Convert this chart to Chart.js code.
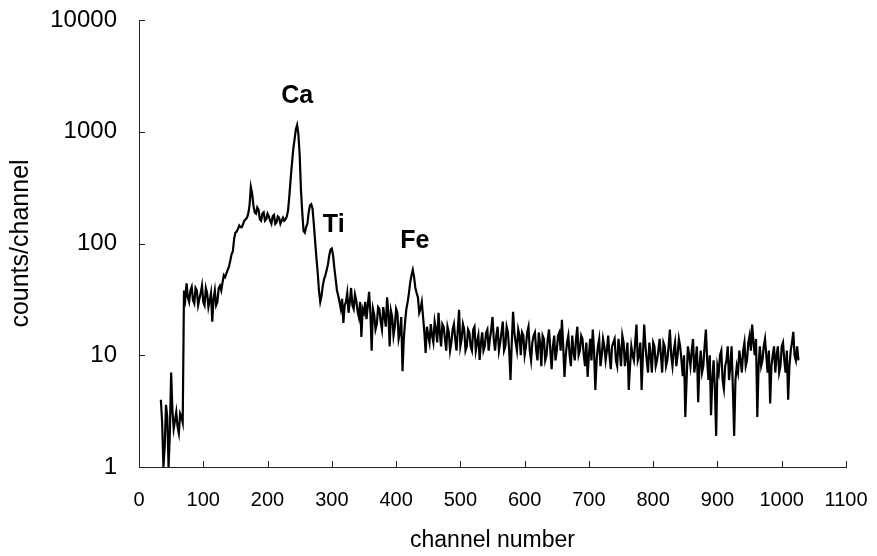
<!DOCTYPE html>
<html>
<head>
<meta charset="utf-8">
<script src="https://cdn.jsdelivr.net/npm/chart.js@4.4.0/dist/chart.umd.min.js"></script>
<style>
  html,body{margin:0;padding:0;background:#fff;}
  #wrap{width:877px;height:556px;}
</style>
</head>
<body>
<div id="wrap"><canvas id="spectrum" width="877" height="556"></canvas></div>
<script>
// spectrum.
// countsA: channels 34, 38, 42 ... 1026 ; countsB: the channels in between (36, 40 ... 1024)
const CH_START = 34, CH_STEP = 4;
const countsA = [
  4, 1, 3.6, 1, 7, 2.2, 3.1, 2.0, 2.8, 38,              // 34-70
  44, 30, 41, 29, 38, 32, 42, 28, 36, 31,               // 74-110
  20, 38, 30, 42, 45, 50, 58, 70, 85, 125,              // 114-150
  135, 140, 150, 165, 185, 320, 220, 185, 200, 160,     // 154-190
  190, 165, 175, 150, 180, 155, 170, 160, 160, 175,     // 194-230
  270, 520, 850, 1150, 620, 190, 125, 150, 220, 205,    // 234-270
  105, 55, 30, 42, 52, 65, 88, 78, 48, 34,              // 274-310
  26, 19.5, 30, 24, 40, 26, 31, 22, 14.6, 24,           // 314-350
  21, 37, 11, 23, 19, 26, 17, 22, 33, 12,               // 354-390
  22, 18, 24, 16, 7.2, 20, 30, 45, 58, 40,              // 394-430
  33, 26, 22, 10.5, 15, 19, 13, 17, 24, 12,             // 434-470
  18, 11, 16, 13, 19, 11, 25.5, 14, 17, 12,             // 474-510
  16, 11, 18, 13, 9.1, 16, 12, 17, 14, 22,              // 514-550
  11, 18, 13, 20, 12, 16, 6.0, 24.5, 13, 17,            // 554-590
  10, 15, 12, 18, 9, 15, 11, 16, 8, 14,                 // 594-630
  10, 17, 7.5, 15, 11, 16, 20.8, 6.4, 13, 10,           // 634-670
  15, 9, 18, 11, 14, 8, 6.4, 14, 17, 4.9,               // 674-710
  12, 8, 14, 9, 15, 7.5, 13, 9, 14, 8,                  // 714-750
  13, 10, 4.9, 12, 9, 18.8, 10, 4.9, 18.8, 9,           // 754-790
  13, 7, 12, 9, 14, 7, 12, 9, 17, 8,                    // 794-830
  13, 10, 12, 6.5, 2.8, 12, 8, 14, 9, 3.8,              // 834-870
  11, 8, 17, 6, 2.9, 9, 1.9, 7, 11, 5,                  // 874-910
  9, 6, 12, 1.9, 8, 11, 7, 13, 9, 15,                   // 914-950
  18.8, 10, 2.8, 12, 9, 14, 7, 3.7, 10, 7,              // 954-990
  12, 8, 13, 7, 4, 11, 16.2, 9, 9                       // 994-1026
];
const countsB = [
  2.5, 1.5, 2.8, 2.0, 3.2, 2.6, 2.3, 3.0, 2.5, 32,      // 36-72
  33, 38, 31, 40, 28, 36, 30, 40, 27, 36,               // 76-112
  32, 28, 40, 38, 52, 54, 62, 80, 110, 128,             // 116-152
  145, 140, 160, 170, 220, 280, 190, 210, 165, 185,     // 156-192
  160, 185, 160, 175, 150, 175, 150, 170, 165, 200,     // 196-232
  380, 700, 1050, 950, 300, 130, 140, 190, 225, 150,    // 236-272
  75, 38, 34, 48, 58, 78, 90, 60, 38, 30,               // 276-312
  32, 28, 36, 30, 28, 35, 25, 30, 26, 30,               // 316-352
  28, 24, 26, 17, 27, 20, 27, 18, 24, 25,               // 356-392
  15, 26, 14, 22, 14, 26, 36, 52, 50, 36,               // 396-432
  24, 30, 16, 18, 13, 15, 20, 13, 16, 19,               // 436-472
  14, 18, 11, 17, 14, 17, 12, 19, 11, 17,               // 476-512
  12, 17, 11, 15, 13, 11, 16, 11, 17, 14,               // 516-552
  15, 11, 16, 11, 18, 11, 13, 16, 11, 15,               // 556-592
  16, 10, 16, 11, 13, 16, 9, 13, 15, 9,                 // 596-632
  14, 11, 12, 9, 15, 11, 12, 10, 15, 8,                 // 636-672
  11, 14, 10, 15, 10, 13, 10, 9, 11, 9,                 // 676-712
  14, 10, 12, 11, 10, 12, 14, 8, 11, 15,                // 716-752
  8, 13, 8, 10, 13, 9, 13, 10, 12, 7,                   // 756-792
  10, 13, 8, 11, 10, 13, 8, 12, 10, 11,                 // 796-832
  8, 14, 9, 10, 6, 10, 11, 7, 12, 8,                    // 836-872
  7, 12, 9, 10, 6, 5, 8, 10, 6, 8,                      // 876-912
  12, 8, 5, 6, 7, 9, 11, 8, 13, 11,                     // 916-952
  13, 14, 8, 8, 12, 10, 11, 8, 12, 10,                  // 956-992
  7, 12, 9, 11, 8, 13, 10, 12                           // 996-1024
];

const spectrum = [];
countsA.forEach((v, i) => {
  spectrum.push({x: CH_START + CH_STEP * i, y: v});
  if (i < countsB.length) spectrum.push({x: CH_START + CH_STEP * i + 2, y: countsB[i]});
});

const xTicks = [0, 100, 200, 300, 400, 500, 600, 700, 800, 900, 1000, 1100];
const yTicks = [1, 10, 100, 1000, 10000];

// element names over the peaks (channel, counts)
const peakNames = ["Ca", "Ti", "Fe"];
const peakChannels = [246, 303, 429];
const peakCounts = [2070, 147, 106];

const FONT = "'Liberation Sans', Arial, sans-serif";

function noScalePad(s){ s.paddingTop = 0; s.paddingBottom = 0; s.paddingLeft = 0; s.paddingRight = 0; }

const innerTicks = {
  id: "innerTicks",
  afterDraw(chart){
    const {ctx, chartArea: a} = chart;
    const x = chart.scales.x, y = chart.scales.y;
    ctx.save();
    ctx.strokeStyle = "#222"; ctx.lineWidth = 1;
    ctx.beginPath();
    for (const v of xTicks){ const px = Math.round(x.getPixelForValue(v)) + 0.5; ctx.moveTo(px, a.bottom); ctx.lineTo(px, a.bottom - 6); }
    for (const v of yTicks){ const py = Math.round(y.getPixelForValue(v)) + 0.5; ctx.moveTo(a.left, py); ctx.lineTo(a.left + 6, py); }
    ctx.stroke();
    ctx.font = "bold 25px " + FONT;
    ctx.fillStyle = "#000"; ctx.textAlign = "center"; ctx.textBaseline = "middle";
    peakNames.forEach((t, i) => ctx.fillText(t, x.getPixelForValue(peakChannels[i]), y.getPixelForValue(peakCounts[i])));
    ctx.restore();
  }
};

new Chart(document.getElementById("spectrum"), {
  type: "line",
  data: {
    datasets: [{
      data: spectrum,
      borderColor: "#000",
      borderWidth: 2.2,
      pointRadius: 0,
      tension: 0,
      fill: false
    }]
  },
  options: {
    responsive: false,
    animation: false,
    devicePixelRatio: 1,
    layout: {padding: {top: 20, right: 31, left: 0, bottom: 0}},
    plugins: {legend: {display: false}, tooltip: {enabled: false}},
    scales: {
      x: {
        type: "linear", min: 0, max: 1100,
        afterBuildTicks: s => { s.ticks = xTicks.map(v => ({value: v})); },
        afterFit: s => { s.height = 89; noScalePad(s); },
        grid: {display: true, drawOnChartArea: false, drawTicks: false},
        border: {display: true, color: "#222", width: 1},
        ticks: {color: "#000", font: {family: FONT, size: 20}, padding: 21, maxRotation: 0, autoSkip: false, callback: v => String(v)},
        title: {display: true, text: "channel number", color: "#000", font: {family: FONT, size: 23}, padding: {top: 0, bottom: 2}}
      },
      y: {
        type: "logarithmic", min: 1, max: 10000,
        afterBuildTicks: s => { s.ticks = yTicks.map(v => ({value: v})); },
        afterFit: s => { s.width = 139; noScalePad(s); },
        grid: {display: true, drawOnChartArea: false, drawTicks: false},
        border: {display: true, color: "#222", width: 1},
        ticks: {color: "#000", font: {family: FONT, size: 24}, padding: 22, callback: v => String(v)},
        title: {display: true, text: "counts/channel", color: "#000", font: {family: FONT, size: 25}, padding: {top: 6, bottom: 0}}
      }
    }
  },
  plugins: [innerTicks]
});
</script>
</body>
</html>
